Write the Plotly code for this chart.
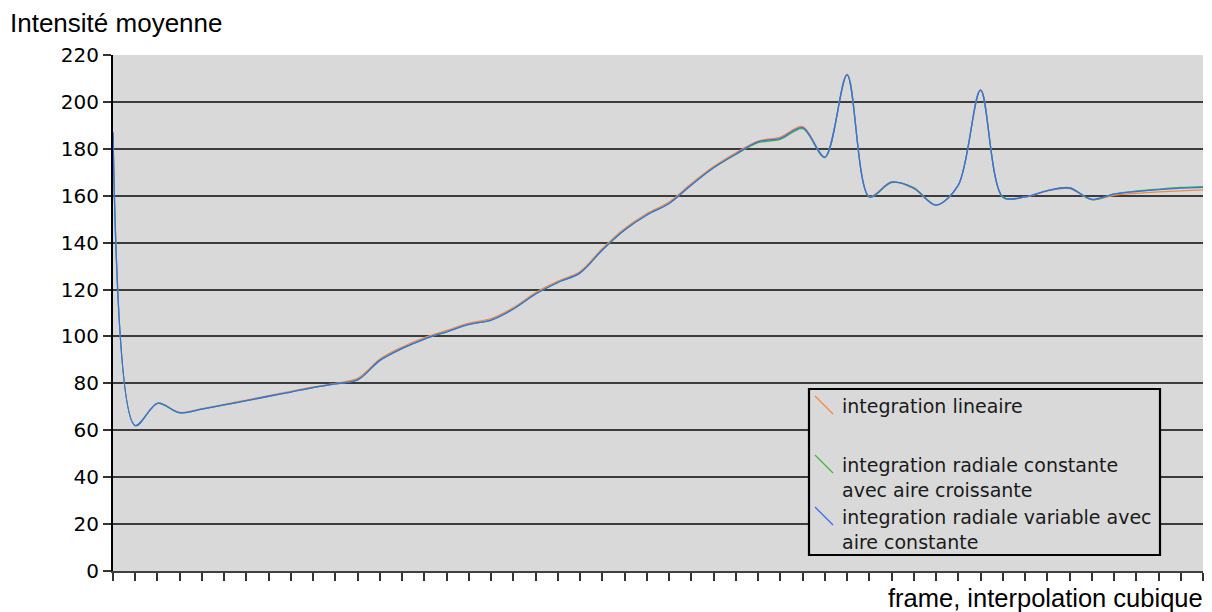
import plotly.graph_objects as go

# Mean intensity per frame for three integration methods
frames = list(range(50))

integration_lineaire = [
    187, 62, 71.6, 67.6, 69.2, 71.0, 72.9, 74.8, 76.6, 78.5,
    80.0, 82.1, 90.4, 95.5, 99.5, 102.6, 105.7, 107.6, 112.3, 118.7,
    123.6, 127.7, 137.5, 146.0, 152.4, 157.3, 165.2, 172.4, 178.3, 183.3,
    185.0, 189.5, 176.5, 211.8, 159.7, 166.0, 163.0, 156.0, 164.5, 205.2,
    159.5, 159.4, 162.0, 163.0, 158.3, 160.2, 161.0, 161.6, 162.1, 162.5,
]

integration_radiale_constante = [
    187, 62, 71.5, 67.4, 69.0, 70.8, 72.6, 74.5, 76.3, 78.2,
    79.8, 81.5, 89.8, 94.9, 98.9, 102.0, 105.1, 107.0, 111.7, 118.1,
    123.0, 127.1, 136.9, 145.4, 151.8, 156.7, 164.6, 171.9, 177.6, 182.6,
    184.0, 188.6, 176.2, 211.4, 159.4, 165.6, 163.5, 156.0, 164.5, 205.0,
    159.3, 159.5, 162.2, 163.4, 158.3, 160.8, 162.0, 162.8, 163.5, 163.9,
]

integration_radiale_variable = [
    187, 62, 71.5, 67.5, 69.0, 70.8, 72.6, 74.5, 76.3, 78.2,
    79.8, 81.5, 89.8, 94.9, 98.9, 102.0, 105.1, 107.0, 111.7, 118.1,
    123.0, 127.1, 136.9, 145.4, 151.8, 156.7, 164.6, 171.9, 177.8, 183.0,
    184.5, 189.0, 176.5, 211.5, 159.5, 165.8, 163.2, 156.0, 164.5, 205.0,
    159.5, 159.5, 162.2, 163.3, 158.5, 160.7, 161.8, 162.6, 163.2, 163.6,
]

series_names = [
    "integration lineaire",
    "integration radiale constante<br>avec aire croissante",
    "integration radiale variable avec<br>aire constante",
]
series_values = [integration_lineaire, integration_radiale_constante, integration_radiale_variable]
series_colors = ["#f28a3e", "#3dbb3d", "#3a6cf2"]

y_ticks = list(range(0, 221, 20))

W, H = 1212, 612
L, R, T, B = 113, 9, 55, 41
PW, PH = W - L - R, H - T - B


def px_x(px):
    return (px - L) / PW


def px_y(py):
    return (H - B - py) / PH


fig = go.Figure()
for name, vals, col in zip(series_names, series_values, series_colors):
    fig.add_trace(go.Scatter(
        x=frames, y=vals, mode="lines", name=name,
        line=dict(color=col, width=1.3, shape="spline", smoothing=0.9),
        showlegend=False, hoverinfo="skip",
    ))

fig.update_layout(
    width=W, height=H,
    margin=dict(l=L, r=R, t=T, b=B, pad=0),
    paper_bgcolor="white",
    plot_bgcolor="#d9d9d9",
    font=dict(family="DejaVu Sans", color="black"),
)

fig.update_xaxes(
    range=[frames[0], frames[-1]],
    tickmode="array", tickvals=frames, showticklabels=False,
    ticks="outside", ticklen=8, tickwidth=1.5, tickcolor="#333333",
    showgrid=False, zeroline=False,
    showline=True, linecolor="#404040", linewidth=2,
)

fig.update_yaxes(
    range=[0, 220],
    tickmode="array", tickvals=y_ticks, ticktext=[str(v) for v in y_ticks],
    tickfont=dict(family="DejaVu Sans", size=20, color="black"),
    ticks="outside", ticklen=8, tickwidth=1.5, tickcolor="#333333",
    showgrid=True, gridcolor="#3c3c3c", gridwidth=1.8,
    zeroline=False,
    showline=True, linecolor="black", linewidth=2,
)

# axis titles
fig.add_annotation(
    text="Intensité moyenne", xref="paper", yref="paper",
    x=px_x(8), y=px_y(23), xanchor="left", yanchor="middle",
    showarrow=False, font=dict(family="Liberation Sans", size=26, color="black"),
)
fig.add_annotation(
    text="frame, interpolation cubique", xref="paper", yref="paper",
    x=px_x(1205), y=px_y(598), xanchor="right", yanchor="middle",
    showarrow=False, font=dict(family="Liberation Sans", size=25.5, color="black"),
)

# legend box
fig.add_shape(
    type="rect", xref="paper", yref="paper",
    x0=px_x(809), x1=px_x(1160), y0=px_y(555), y1=px_y(389),
    line=dict(color="black", width=2.2), fillcolor="#d9d9d9", layer="above",
)
legend_rows = [405, 464, 516]
for name, col, ry in zip(series_names, series_colors, legend_rows):
    fig.add_shape(
        type="line", xref="paper", yref="paper",
        x0=px_x(815), x1=px_x(833), y0=px_y(ry - 9), y1=px_y(ry + 9),
        line=dict(color=col, width=1.3), layer="above",
    )
    fig.add_annotation(
        text=name, xref="paper", yref="paper",
        x=px_x(840), y=px_y(ry - 12), xanchor="left", yanchor="top",
        align="left", showarrow=False,
        font=dict(family="DejaVu Sans", size=19, color="#1a1a1a"),
    )

fig.write_html("out.html")
